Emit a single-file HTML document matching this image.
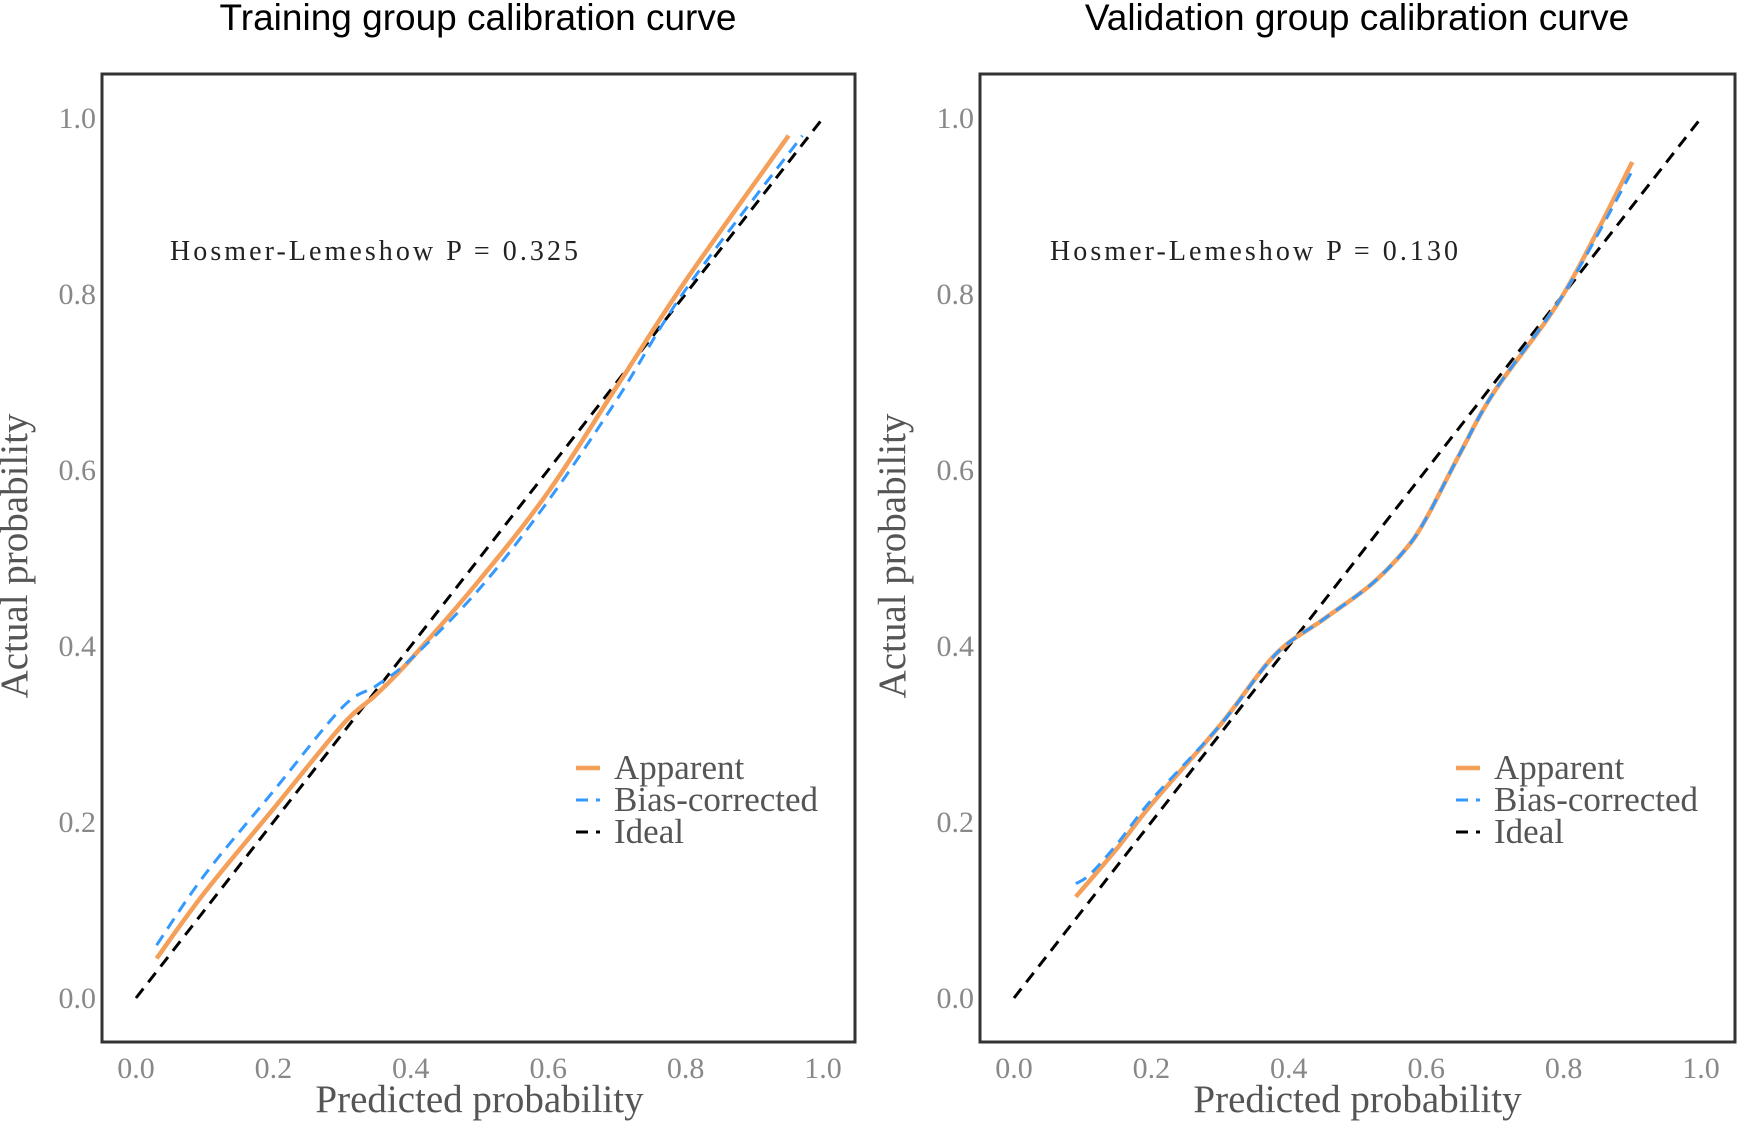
<!DOCTYPE html>
<html><head><meta charset="utf-8"><style>
body{margin:0;background:#fff;width:1743px;height:1127px;overflow:hidden}
svg text{font-family:"Liberation Serif",serif}
</style></head><body>
<svg id="chart" width="1743" height="1127" xmlns="http://www.w3.org/2000/svg"></svg>
<script>
const ticks=[0,0.2,0.4,0.6,0.8,1.0];
const tickLabels=["0.0","0.2","0.4","0.6","0.8","1.0"];
const titles=["Training group calibration curve","Validation group calibration curve"];
const hlLabels=["Hosmer-Lemeshow  P  =  0.325","Hosmer-Lemeshow  P  =  0.130"];
const trainAppX=[0.03,0.1,0.2,0.3,0.35,0.4,0.5,0.6,0.7,0.8,0.95];
const trainAppY=[0.045,0.12,0.215,0.31,0.345,0.385,0.475,0.575,0.695,0.815,0.98];
const trainBiasX=[0.03,0.1,0.2,0.3,0.35,0.4,0.5,0.6,0.7,0.8,0.97];
const trainBiasY=[0.06,0.14,0.235,0.33,0.355,0.385,0.465,0.565,0.68,0.805,0.98];
const valAppX=[0.09,0.15,0.2,0.3,0.38,0.45,0.52,0.57,0.6,0.65,0.7,0.8,0.9];
const valAppY=[0.115,0.17,0.22,0.31,0.39,0.43,0.47,0.51,0.545,0.62,0.69,0.80,0.95];
const valBiasX=[0.09,0.11,0.15,0.2,0.3,0.38,0.45,0.52,0.57,0.6,0.65,0.7,0.8,0.9];
const valBiasY=[0.13,0.14,0.175,0.225,0.31,0.39,0.43,0.47,0.51,0.545,0.62,0.69,0.80,0.94];
const idealX=[0,1];
const idealY=[0,1];
const legendLabels=["Apparent","Bias-corrected","Ideal"];
const NS="http://www.w3.org/2000/svg";
const svg=document.getElementById('chart');
function mk(tag,attrs,parent){const e=document.createElementNS(NS,tag);for(const k in attrs)e.setAttribute(k,attrs[k]);(parent||svg).appendChild(e);return e;}
const panels=[
 {name:'training',bx:102,bw:753,x0:136,x1:823,app:[trainAppX,trainAppY],bias:[trainBiasX,trainBiasY],leg:576,tcx:478,hlx:170},
 {name:'validation',bx:980,bw:755,x0:1014,x1:1701,app:[valAppX,valAppY],bias:[valBiasX,valBiasY],leg:1456,tcx:1357,hlx:1050}
];
const by=74,bh=968,y0=998,y1=118;
function smooth(P){
  let d='M'+P[0][0]+','+P[0][1];
  for(let i=0;i<P.length-1;i++){
    const p0=P[i-1]||P[i],p1=P[i],p2=P[i+1],p3=P[i+2]||P[i+1];
    const c1=[p1[0]+(p2[0]-p0[0])/6,p1[1]+(p2[1]-p0[1])/6];
    const c2=[p2[0]-(p3[0]-p1[0])/6,p2[1]-(p3[1]-p1[1])/6];
    d+=' C'+c1+' '+c2+' '+p2;
  }
  return d;
}
panels.forEach((p,pi)=>{
  const g=mk('g',{});
  
  
  const sx=v=>p.x0+(p.x1-p.x0)*v, sy=v=>y0+(y1-y0)*v;
  const t=mk('text',{x:p.tcx,y:30,'text-anchor':'middle','font-size':37,fill:'#000',style:'font-family:"Liberation Sans",sans-serif'},g);
  t.textContent=titles[pi];
  
  
  const box=mk('rect',{x:p.bx,y:by,width:p.bw,height:bh,fill:'none',stroke:'#333',"stroke-width":3},g);
  
  
  ticks.forEach((v,i)=>{
    const ty=mk('text',{x:p.bx-6,y:sy(v)+10,'text-anchor':'end','font-size':30,fill:'#888'},g);
    ty.textContent=tickLabels[i];
    
    
    const tx=mk('text',{x:sx(v),y:by+bh+36,'text-anchor':'middle','font-size':30,fill:'#888'},g);
    tx.textContent=tickLabels[i];
    
    
  });
  const xt=mk('text',{x:(p.x0+p.x1)/2,y:1112,'text-anchor':'middle','font-size':39,fill:'#555'},g);
  xt.textContent='Predicted probability';
  
  
  const ycx=p.bx-75;
  const yt=mk('text',{x:ycx,y:556,'text-anchor':'middle','font-size':39,fill:'#555',transform:`rotate(-90 ${ycx} 556)`},g);
  yt.textContent='Actual probability';
  
  
  const hl=mk('text',{x:p.hlx,y:260,'font-size':28,fill:'#222',textLength:408,lengthAdjust:'spacing'},g);
  hl.textContent=hlLabels[pi];
  
  
  const pts=(xs,ys)=>xs.map((x,i)=>[sx(x),sy(ys[i])]);
  const ideal=mk('path',{d:smooth(pts(idealX,idealY)),fill:'none',stroke:'#000','stroke-width':3,'stroke-dasharray':'12 8'},g);
  
  
  const app=mk('path',{d:smooth(pts(p.app[0],p.app[1])),fill:'none',stroke:'#f4a05a','stroke-width':4.5},g);
  
  
  const bias=mk('path',{d:smooth(pts(p.bias[0],p.bias[1])),fill:'none',stroke:'#3399ff','stroke-width':3,'stroke-dasharray':'12 8'},g);
  
  
  const cols=['#f4a05a','#3399ff','#000'];
  legendLabels.forEach((l,i)=>{
    const ly=768+i*32;
    const ln=mk('line',{x1:p.leg,x2:p.leg+24,y1:ly,y2:ly,stroke:cols[i],'stroke-width':i==0?4.5:3,'stroke-dasharray':i==0?'none':'12 8'},g);
    
    
    const lt=mk('text',{x:p.leg+38,y:ly+11,'font-size':35,fill:'#555'},g);
    lt.textContent=l;
    
    
  });
});
</script>
</body></html>
